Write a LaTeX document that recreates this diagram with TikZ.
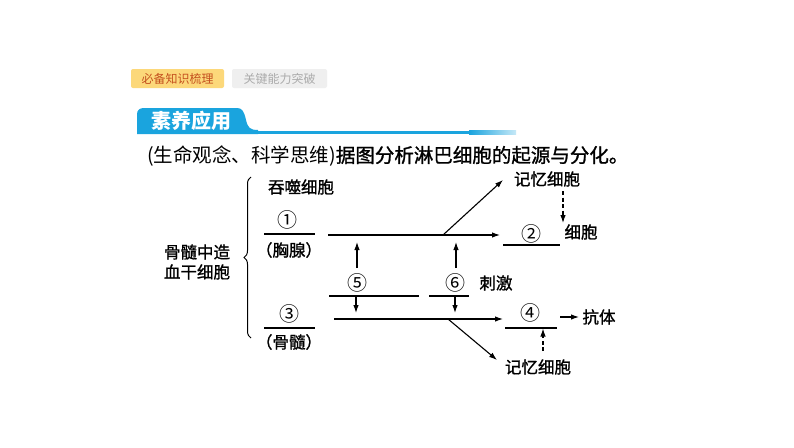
\documentclass[tikz,border=0pt]{standalone}
\usepackage{fontspec}
\newfontfamily\cjk{Noto Sans CJK SC}
\newfontfamily\cjkb[FakeBold=1.2]{Noto Sans CJK SC}
\usetikzlibrary{arrows.meta,decorations.pathreplacing}
\definecolor{hblue}{HTML}{1AA4DE}
\definecolor{tabyel}{HTML}{FCD87A}
\definecolor{tabred}{HTML}{C4501E}
\definecolor{tabgray}{HTML}{EFEFEF}
\definecolor{tabgtxt}{HTML}{ABABAB}
\begin{document}
\begin{tikzpicture}[x=1pt,y=-1pt,
  lbl/.style={font=\cjkb\fontsize{16.5}{20}\selectfont, inner sep=0pt},
  num/.style={font=\cjk\fontsize{20}{22}\selectfont, inner sep=0pt},
  tabtxt/.style={font=\cjk\fontsize{12}{14}\selectfont, inner sep=0pt},
  ln/.style={line width=1.1pt},
  arr/.style={line width=1.1pt,-{Latex[length=8pt,width=5.5pt]}},
  darr/.style={arr, dash pattern=on 4pt off 2.5pt}]
\useasboundingbox[fill=white] (0,0) rectangle (794,447);
% top tabs
\fill[tabyel, rounded corners=2pt] (131,69) rectangle (224,88);
\node[tabtxt, text=tabred] (tab1) at (177.5,78.5) {必备知识梳理};
\fill[tabgray, rounded corners=2pt] (232,69) rectangle (327,88);
\node[tabtxt, text=tabgtxt] (tab2) at (279.5,78.5) {关键能力突破};
% header
\fill[hblue] (137,134) -- (137,114) .. controls (137,110) and (140,108) .. (144,108) -- (237,108)
  .. controls (242,108) and (244,111) .. (246,120) .. controls (248,128) and (250,130) .. (258,130) -- (258,134) -- cycle;
\fill[hblue] (257,130.5) rectangle (470,134);
\shade[left color=hblue, right color=hblue!25] (469,130.5) rectangle (516,134);
\node[font=\cjk\bfseries\fontsize{20}{22}\selectfont, text=white, inner sep=0pt] (head) at (191,121) {素养应用};
% question
\node[font=\cjk\fontsize{19.5}{22}\selectfont, inner sep=0pt, anchor=west] (q) at (147,156) {(生命观念、科学思维){\cjkb 据图分析淋巴细胞的起源与分化。}};
% left
\node[lbl, align=center] (hsc) at (197,262) {骨髓中造\\[0pt]血干细胞};
\draw[line width=1pt, decorate, decoration={brace, amplitude=7pt}] (251,338) -- (251,177);
\node[lbl] (tun) at (301,187) {吞噬细胞};
\node[num] (n1) at (287,220) {①};
\coordinate (l1a) at (264,234); \coordinate (l1b) at (315,234);
\draw[ln] (l1a) -- (l1b);
\node[lbl] (xx) at (289,250) {（胸腺）};
\node[num] (n3) at (289,314) {③};
\coordinate (l3a) at (264,328); \coordinate (l3b) at (315,328);
\draw[ln] (l3a) -- (l3b);
\node[lbl] (gs) at (289,342) {（骨髓）};
% upper path
\coordinate (u0) at (328,235); \coordinate (u1) at (500,235);
\coordinate (ub) at (443,235); \coordinate (ut) at (503,180);
\draw[arr] (u0) -- (u1);
\draw[arr] (ub) -- (ut);
\node[lbl] (m1) at (547,179) {记忆细胞};
\coordinate (d1a) at (563,191); \coordinate (d1b) at (563,223);
\draw[darr] (d1a) -- (d1b);
\node[num] (n2) at (531,234) {②};
\coordinate (l2a) at (503,245); \coordinate (l2b) at (560,245);
\draw[ln] (l2a) -- (l2b);
\node[lbl] (xb) at (581,232) {细胞};
% middle
\node[num] (n5) at (357,283) {⑤};
\node[num] (n6) at (455,283) {⑥};
\node[lbl] (cj) at (496,283) {刺激};
\coordinate (b5a) at (329,296); \coordinate (b5b) at (419,296);
\coordinate (b6a) at (429,296); \coordinate (b6b) at (469,296);
\draw[ln] (b5a) -- (b5b);
\draw[ln] (b6a) -- (b6b);
\coordinate (v5a) at (357,268); \coordinate (v5b) at (357,242);
\coordinate (v6a) at (456,268); \coordinate (v6b) at (456,242);
\draw[arr] (v5a) -- (v5b);
\draw[arr] (v6a) -- (v6b);
\coordinate (w5a) at (356,296); \coordinate (w5b) at (356,313);
\coordinate (w6a) at (455,296); \coordinate (w6b) at (455,313);
\draw[arr] (w5a) -- (w5b);
\draw[arr] (w6a) -- (w6b);
% lower path
\coordinate (p0) at (334,319); \coordinate (p1) at (503,319);
\coordinate (pb) at (448,319); \coordinate (pt) at (497,360);
\draw[arr] (p0) -- (p1);
\draw[arr] (pb) -- (pt);
\node[num] (n4) at (530,313) {④};
\coordinate (l4a) at (505,328); \coordinate (l4b) at (557,328);
\draw[ln] (l4a) -- (l4b);
\node[lbl] (kt) at (599,317) {抗体};
\coordinate (k0) at (560,317);
\draw[arr] (k0) -- (kt.west -| 579,317);
\node[lbl] (m2) at (538,367) {记忆细胞};
\coordinate (d2a) at (543,351); \coordinate (d2b) at (543,328.5);
\draw[darr] (d2a) -- (d2b);
\end{tikzpicture}
\end{document}
